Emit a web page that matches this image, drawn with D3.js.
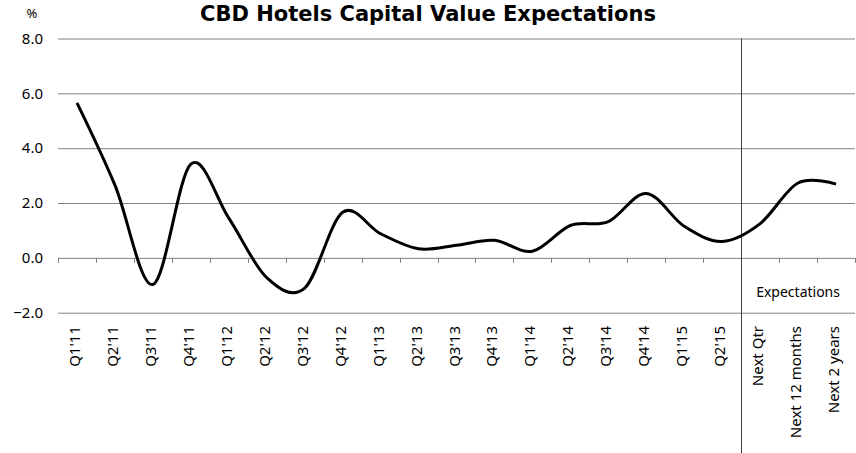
<!DOCTYPE html>
<html>
<head>
<meta charset="utf-8">
<script src="https://cdn.jsdelivr.net/npm/d3@7"></script>
<style>
  html, body { margin: 0; padding: 0; background: #fff; }
  svg { display: block; font-family: "Noto Sans", "Open Sans", sans-serif; }
</style>
</head>
<body>
<svg id="chart" width="856" height="453"></svg>
<script>
// ---- Data ----
const categories = ["Q1'11","Q2'11","Q3'11","Q4'11","Q1'12","Q2'12","Q3'12","Q4'12",
  "Q1'13","Q2'13","Q3'13","Q4'13","Q1'14","Q2'14","Q3'14","Q4'14","Q1'15","Q2'15",
  "Next Qtr","Next 12 months","Next 2 years"];
const values = [5.65, 2.65, -0.97, 3.42, 1.45, -0.72, -1.1, 1.66,
  0.88, 0.33, 0.46, 0.64, 0.24, 1.18, 1.32, 2.35, 1.15, 0.6,
  1.25, 2.73, 2.69];
const yTicks = [-2, 0, 2, 4, 6, 8];
const title = "CBD Hotels Capital Value Expectations";
const unitLabel = "%";
const expectationsLabel = "Expectations";
const expectationsStart = "Next Qtr";

// ---- Layout ----
const svg = d3.select("#chart");
const pLeft = 58, pRight = 855, pTop = 38.5, pBottom = 312.7;

const x = d3.scaleBand().domain(categories).range([pLeft, pRight]).padding(0);
const y = d3.scaleLinear().domain([-2, 8]).range([pBottom, pTop]);

// title
svg.append("text")
  .attr("x", 428).attr("y", 20.5)
  .attr("text-anchor", "middle")
  .attr("font-family", "DejaVu Sans, sans-serif")
  .attr("font-size", 21).attr("font-weight", "bold")
  .attr("fill", "#000")
  .text(title);

svg.append("text")
  .attr("x", 32).attr("y", 18)
  .attr("text-anchor", "middle")
  .attr("font-size", 13)
  .attr("fill", "#000")
  .text(unitLabel);

// gridlines
const yAxis = d3.axisLeft(y).tickValues(yTicks).tickFormat(d3.format(".1f"))
  .tickSize(-(pRight - pLeft)).tickPadding(14);
const gy = svg.append("g").attr("transform", `translate(${pLeft},0)`).call(yAxis);
gy.select(".domain").remove();
gy.selectAll(".tick line").attr("stroke", "#808080").attr("stroke-width", 1);
gy.selectAll(".tick text").attr("font-size", 15).attr("fill", "#000")
  .attr("font-family", "Noto Sans, sans-serif").attr("x", -15);

// zero axis ticks (category boundaries)
const boundaries = categories.map(c => x(c)).concat([x.range()[1]]);
svg.append("g").selectAll("line").data(boundaries).join("line")
  .attr("x1", d => Math.round(d) + 0.5).attr("x2", d => Math.round(d) + 0.5)
  .attr("y1", y(0)).attr("y2", y(0) + 5)
  .attr("stroke", "#808080").attr("stroke-width", 1);

// x labels (rotated)
const gx = svg.append("g");
gx.selectAll("text").data(categories).join("text")
  .attr("transform", d => `translate(${x(d) + x.bandwidth() / 2 + 3},326) rotate(-90)`)
  .attr("text-anchor", "end")
  .attr("font-size", 15)
  .attr("fill", "#000")
  .text(d => d);

// divider line
const xDiv = Math.round(x(expectationsStart)) + 0.5;
svg.append("line")
  .attr("x1", xDiv).attr("x2", xDiv)
  .attr("y1", pTop).attr("y2", 453)
  .attr("stroke", "#404040").attr("stroke-width", 1);

svg.append("text")
  .attr("x", (x(expectationsStart) + pRight) / 2).attr("y", 297)
  .attr("text-anchor", "middle")
  .attr("font-size", 14)
  .attr("fill", "#000")
  .text(expectationsLabel);

// line
const line = d3.line()
  .x((d, i) => x(categories[i]) + x.bandwidth() / 2)
  .y(d => y(d))
  .curve(d3.curveCardinal.tension(0));

svg.append("path")
  .datum(values)
  .attr("d", line)
  .attr("fill", "none")
  .attr("stroke", "#000")
  .attr("stroke-width", 3)
  .attr("stroke-linejoin", "round");
</script>
</body>
</html>
